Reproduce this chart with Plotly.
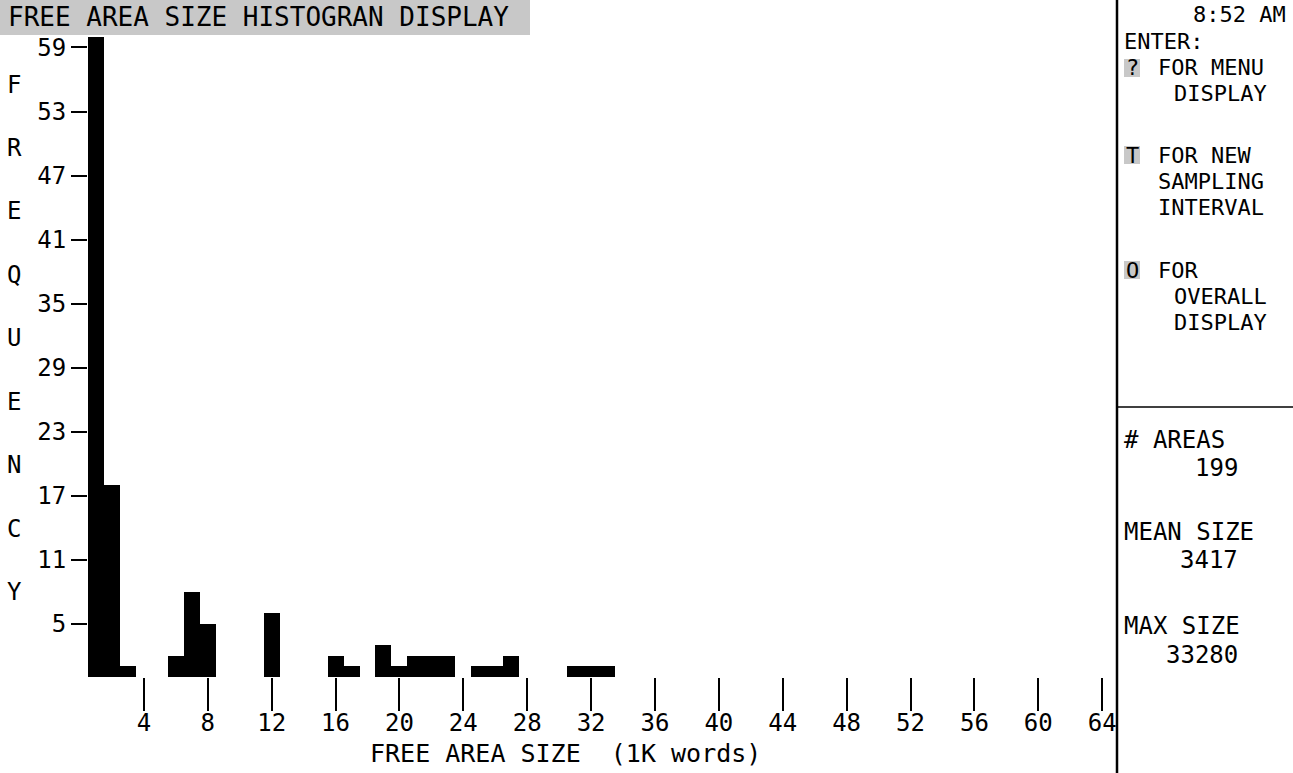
import plotly.graph_objects as go

# ---- data ----
size_bins_k = [1, 2, 3, 6, 7, 8, 12, 16, 17, 19, 20, 21, 22, 23, 25, 26, 27, 31, 32, 33]
frequency = [60, 18, 1, 2, 8, 5, 6, 2, 1, 3, 1, 2, 2, 2, 1, 1, 2, 1, 1, 1]
x_tick_vals = [4, 8, 12, 16, 20, 24, 28, 32, 36, 40, 44, 48, 52, 56, 60, 64]
y_tick_vals = [5, 11, 17, 23, 29, 35, 41, 47, 53, 59]
title_text = "FREE AREA SIZE HISTOGRAN DISPLAY"
x_title = "FREE AREA SIZE  (1K words)"
y_title = "FREQUENCY"
clock = "8:52 AM"
n_areas = "199"
mean_size = "3417"
max_size = "33280"

W, H = 1293, 773
L, R, T, B = 88, 1117, 35, 677
FONT = "DejaVu Sans Mono"


def px(x):
    return (x - L) / (R - L)


def py(y):
    return (B - y) / (B - T)


fig = go.Figure(
    go.Bar(
        x=size_bins_k,
        y=frequency,
        width=1,
        marker=dict(color="black", line=dict(width=0)),
        hoverinfo="x+y",
    )
)

fig.update_layout(
    width=W,
    height=H,
    autosize=False,
    margin=dict(l=L, r=W - R, t=T, b=H - B, pad=0),
    paper_bgcolor="white",
    plot_bgcolor="white",
    showlegend=False,
    bargap=0,
    font=dict(family=FONT, color="black", size=24),
)

fig.update_xaxes(
    range=[0.5, 64.93],
    tickvals=x_tick_vals,
    ticktext=[str(v) for v in x_tick_vals],
    ticks="outside",
    ticklen=33,
    tickwidth=2,
    tickcolor="black",
    ticklabelstandoff=-9,
    showgrid=False,
    zeroline=False,
    showline=False,
    tickfont=dict(family=FONT, size=24, color="black"),
)
fig.update_yaxes(
    range=[0, 60.17],
    tickvals=y_tick_vals,
    ticktext=[str(v) for v in y_tick_vals],
    ticks="outside",
    ticklen=16,
    tickwidth=2,
    tickcolor="black",
    showgrid=False,
    zeroline=False,
    showline=False,
    tickfont=dict(family=FONT, size=24, color="black"),
)

shapes = []
# title stipple band
shapes.append(dict(type="rect", xref="paper", yref="paper",
                   x0=px(0), x1=px(530), y0=py(35), y1=py(0),
                   fillcolor="#c8c8c8", line=dict(width=0), layer="below"))
# right panel dividers
shapes.append(dict(type="line", xref="paper", yref="paper",
                   x0=px(1117), x1=px(1117), y0=py(0), y1=py(H),
                   line=dict(color="black", width=2.5)))
shapes.append(dict(type="line", xref="paper", yref="paper",
                   x0=px(1117), x1=px(W), y0=py(407), y1=py(407),
                   line=dict(color="black", width=1.5)))
# highlighted command keys
for yc in [68, 155, 270]:
    shapes.append(dict(type="rect", xref="paper", yref="paper",
                       x0=px(1124), x1=px(1140), y0=py(yc + 9), y1=py(yc - 9),
                       fillcolor="#c8c8c8", line=dict(width=0)))
fig.update_layout(shapes=shapes)

ann = []


def text(t, x, y, anchor="left", size=22):
    ann.append(dict(text=t, xref="paper", yref="paper", x=px(x), y=py(y),
                    xanchor=anchor, yanchor="middle", showarrow=False,
                    font=dict(family=FONT, size=size, color="black")))


text(title_text, 6, 17, size=26)
text(x_title, 565, 753, anchor="center", size=25)

letter_y = [85, 148, 211, 275, 338, 402, 465, 529, 592]
for ch, yy in zip(y_title, letter_y):
    text(ch, 14, yy, anchor="center", size=24)

# right panel
text(clock, 1288, 15, anchor="right")
text("ENTER:", 1122, 41)
text("?", 1132, 68, anchor="center")
text("FOR MENU", 1156, 68)
text("DISPLAY", 1172, 94)
text("T", 1132, 155, anchor="center")
text("FOR NEW", 1156, 155)
text("SAMPLING", 1156, 182)
text("INTERVAL", 1156, 208)
text("O", 1132, 270, anchor="center")
text("FOR", 1156, 270)
text("OVERALL", 1172, 296)
text("DISPLAY", 1172, 322)
text("# AREAS", 1122, 440, size=24)
text(n_areas, 1240, 468, anchor="right", size=24)
text("MEAN SIZE", 1122, 532, size=24)
text(mean_size, 1240, 560, anchor="right", size=24)
text("MAX SIZE", 1122, 626, size=24)
text(max_size, 1240, 655, anchor="right", size=24)

fig.update_layout(annotations=ann)

fig.write_html(
    "out.html",
    config={"displayModeBar": False},
    post_script="document.body.style.margin='0';document.body.style.overflow='hidden';",
)
